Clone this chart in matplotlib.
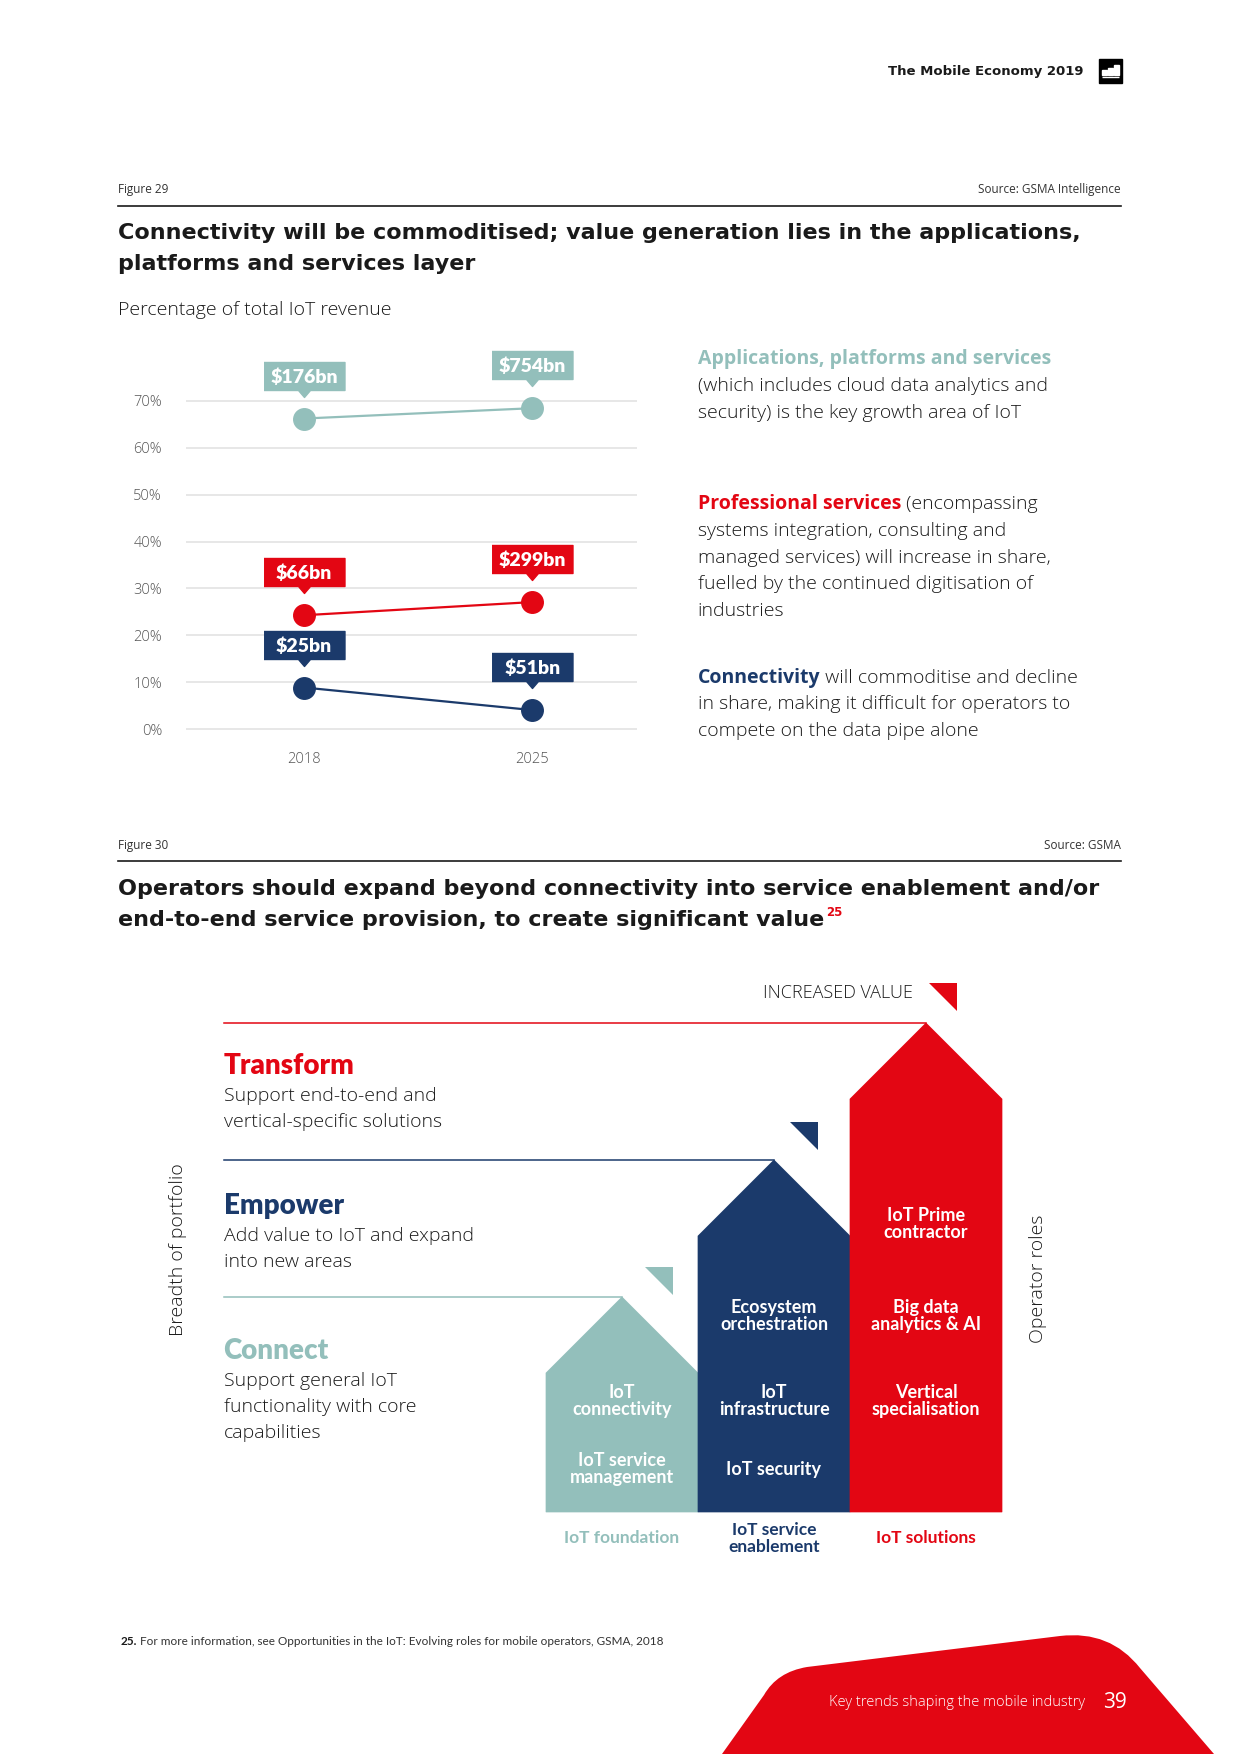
import matplotlib.pyplot as plt
from matplotlib.patches import Polygon, Rectangle, PathPatch
from matplotlib.path import Path
from matplotlib.transforms import offset_copy

TEAL = '#93bfbb'
RED = '#e30613'
NAVY = '#1b3a6b'
DARK = '#1a1a1a'
GREY = '#555555'
BODY = 'Open Sans'
BOLD = 'Lato'
HEAD = 'DejaVu Sans'

# ---- Figure 29 data ----
years = ['2018', '2025']
share_apps = [66.2, 68.4]
share_prof = [24.3, 27.1]
share_conn = [8.9, 4.1]
revenue_apps = ['$176bn', '$754bn']
revenue_prof = ['$66bn', '$299bn']
revenue_conn = ['$25bn', '$51bn']
y_ticks = [0, 10, 20, 30, 40, 50, 60, 70]

# ---- Figure 30 data ----
roles = ['Connect', 'Empower', 'Transform']
role_desc = [['Support general IoT', 'functionality with core', 'capabilities'],
             ['Add value to IoT and expand', 'into new areas'],
             ['Support end-to-end and', 'vertical-specific solutions']]
columns = ['IoT foundation', 'IoT service\nenablement', 'IoT solutions']
column_items = [['IoT\nconnectivity', 'IoT service\nmanagement'],
                ['Ecosystem\norchestration', 'IoT\ninfrastructure', 'IoT security'],
                ['IoT Prime\ncontractor', 'Big data\nanalytics & AI', 'Vertical\nspecialisation']]
item_rows = [[2, 3], [1, 2, 3], [0, 1, 2]]
col_colors = [TEAL, NAVY, RED]

fig = plt.figure(figsize=(12.4, 17.54), dpi=100)
page = fig.add_axes([0, 0, 1, 1])
page.set_xlim(0, 1240)
page.set_ylim(1754, 0)
page.axis('off')
renderer = fig.canvas.get_renderer()


def runs(x, y, parts, size):
    # draw text pieces one after another on the same line
    for s, color, weight, family in parts:
        t = page.text(x, y, s, color=color, fontweight=weight, fontsize=size,
                      va='center', ha='left', family=family)
        x += t.get_window_extent(renderer).width
    return x


# header
page.text(1083, 71, 'The Mobile Economy 2019', ha='right', va='center',
          fontsize=9.5, fontweight='bold', color=DARK, family=HEAD)
page.add_patch(Rectangle((1099, 59), 23, 24, color='black'))
for bx, bh in [(1102, 5), (1108, 7), (1114, 10)]:
    page.add_patch(Rectangle((bx, 75 - bh), 5, bh, color='white'))
page.add_patch(Rectangle((1102, 76.5), 17, 0.8, color='white'))

# ---- Figure 29 ----
page.text(118.5, 190, 'Figure 29', va='center', fontsize=8.5, color='#333333', family=BODY)
page.text(1121, 190, 'Source: GSMA Intelligence', va='center', ha='right', fontsize=8.5,
          color='#333333', family=BODY)
page.plot([118, 1121], [205.7, 205.7], color=DARK, lw=1.2)
page.text(118.5, 232.6, 'Connectivity will be commoditised; value generation lies in the applications,',
          va='center', fontsize=16, fontweight='bold', color=DARK, family=HEAD)
page.text(118.5, 263.9, 'platforms and services layer',
          va='center', fontsize=16, fontweight='bold', color=DARK, family=HEAD)
page.text(118.5, 309.7, 'Percentage of total IoT revenue', va='center', fontsize=14,
          color=DARK, family=BODY, fontweight='light')

ax = fig.add_axes([185.6 / 1240, 1 - 734 / 1754, 451.7 / 1240, 338 / 1754])
ax.set_xlim(-0.5195, 1.4608)
ax.set_ylim(-1, 71)
for s in ax.spines.values():
    s.set_visible(False)
ax.set_yticks(y_ticks)
ax.set_yticklabels([f'{t}%' for t in y_ticks])
ax.set_xticks([0, 1])
ax.set_xticklabels(years)
ax.tick_params(length=0, labelsize=10.5, labelcolor=GREY, pad=17)
ax.tick_params(axis='x', pad=13)
for lab in ax.get_xticklabels() + ax.get_yticklabels():
    lab.set_family(BODY)
    lab.set_fontweight('light')
ax.yaxis.grid(True, color='#e3e3e3', lw=1.2)
ax.set_axisbelow(True)

callout = [(-40.5, 14), (40.5, 14), (40.5, -14), (6, -14), (0, -21), (-6, -14), (-40.5, -14)]
box_tr = offset_copy(ax.transData, fig=fig, x=0, y=43, units='dots')
txt_tr = offset_copy(ax.transData, fig=fig, x=0, y=36, units='dots')
xs = [0, 1]
for vals, labels, color in [(share_apps, revenue_apps, TEAL),
                            (share_prof, revenue_prof, RED),
                            (share_conn, revenue_conn, NAVY)]:
    ax.plot(xs, vals, color=color, lw=1.6, marker='o', ms=15.5, clip_on=False, zorder=3)
    ax.plot(xs, vals, ls='none', marker=callout, ms=58.3, color=color, mec=color,
            transform=box_tr, clip_on=False, zorder=4)
    for xi, v, lab in zip(xs, vals, labels):
        ax.text(xi, v, lab, transform=txt_tr, ha='center', va='baseline', color='white',
                fontsize=14, fontweight='heavy', family=BOLD, zorder=5)

# right-hand commentary
lh = 26.8
tx0 = 697.7
runs(tx0, 359, [('Applications, platforms and services', TEAL, 'bold', BODY)], 14)
for i, line in enumerate(['(which includes cloud data analytics and',
                          'security) is the key growth area of IoT']):
    runs(tx0, 359 + lh * (i + 1), [(line, DARK, 'light', BODY)], 14)
runs(tx0, 504, [('Professional services', RED, 'bold', BODY),
                (' (encompassing', DARK, 'light', BODY)], 14)
for i, line in enumerate(['systems integration, consulting and',
                          'managed services) will increase in share,',
                          'fuelled by the continued digitisation of',
                          'industries']):
    runs(tx0, 504 + lh * (i + 1), [(line, DARK, 'light', BODY)], 14)
runs(tx0, 677.6, [('Connectivity', NAVY, 'bold', BODY),
                  (' will commoditise and decline', DARK, 'light', BODY)], 14)
for i, line in enumerate(['in share, making it difficult for operators to',
                          'compete on the data pipe alone']):
    runs(tx0, 677.6 + lh * (i + 1), [(line, DARK, 'light', BODY)], 14)

# ---- Figure 30 ----
page.text(118.5, 845.3, 'Figure 30', va='center', fontsize=8.5, color='#333333', family=BODY)
page.text(1121, 845.3, 'Source: GSMA', va='center', ha='right', fontsize=8.5,
          color='#333333', family=BODY)
page.plot([118, 1121], [861, 861], color=DARK, lw=1.2)
page.text(118.5, 889, 'Operators should expand beyond connectivity into service enablement and/or',
          va='center', fontsize=16, fontweight='bold', color=DARK, family=HEAD)
xe = runs(118.5, 920, [('end-to-end service provision, to create significant value', DARK, 'bold', HEAD)],
          16)
page.text(xe + 1, 912, '25', va='center', fontsize=8.5, fontweight='bold', color=RED,
          family=HEAD)

# houses
house_w = 152
left0 = 546
base = 1512
shoulder0 = 1373
step = 137
row_y = [1224, 1316, 1401, 1469]
role_y = [1350.6, 1206.4, 1065.6]
tri_pos = [(673, 1267), (818, 1122), (957, 983)]
tri = 28
for i, color in enumerate(col_colors):
    l = left0 + i * house_w
    sh = shoulder0 - i * step
    peak = sh - house_w / 2
    page.add_patch(Polygon([(l, base), (l, sh), (l + house_w / 2, peak),
                            (l + house_w, sh), (l + house_w, base)], closed=True,
                           fc=color, ec=color, lw=0.5))
    page.plot([223.6, l + house_w / 2], [peak, peak], color=color, lw=1.1)
    tx, ty = tri_pos[i]
    page.add_patch(Polygon([(tx - tri, ty), (tx, ty), (tx, ty + tri)], closed=True,
                           fc=color, ec='none'))
    cx = l + house_w / 2
    for item, r in zip(column_items[i], item_rows[i]):
        page.text(cx, row_y[r], item, ha='center', va='center', color='white',
                  fontsize=13, fontweight='bold', family=BOLD, linespacing=1.05)
    page.text(cx, 1538.3, columns[i], ha='center', va='center', color=color,
              fontsize=12.5, fontweight='bold', family=BOLD, linespacing=1.05)
    # role titles and descriptions
    page.text(223.6, role_y[i], roles[i], va='center', color=color, fontsize=20,
              fontweight='heavy', family=BOLD)
    for k, line in enumerate(role_desc[i]):
        page.text(223.6, role_y[i] + 30 + 26 * k, line, va='center', color=DARK,
                  fontsize=14, family=BODY, fontweight='light')

page.text(913, 993, 'INCREASED VALUE', ha='right', va='center', fontsize=13,
          color=DARK, family=BODY, fontweight='light')
page.text(178, 1250, 'Breadth of portfolio', rotation=90, ha='center', va='center',
          fontsize=14, color=DARK, family=BODY, fontweight='light')
page.text(1038, 1279, 'Operator roles', rotation=90, ha='center', va='center',
          fontsize=14, color=DARK, family=BODY, fontweight='light')

# footnote
runs(120.8, 1641.4, [('25.', DARK, 'bold', BOLD),
                     (' For more information, see Opportunities in the IoT: Evolving roles for '
                      'mobile operators, GSMA, 2018', '#333333', 'normal', BOLD)], 8.5)

# footer shape
verts = [(722, 1754), (764, 1695), (777, 1672), (807, 1667), (1060, 1636),
         (1110, 1630), (1140, 1668), (1214, 1754), (722, 1754)]
codes = [Path.MOVETO, Path.LINETO, Path.CURVE3, Path.CURVE3, Path.LINETO,
         Path.CURVE3, Path.CURVE3, Path.LINETO, Path.CLOSEPOLY]
page.add_patch(PathPatch(Path(verts, codes), fc=RED, ec='none'))
page.text(1085, 1703, 'Key trends shaping the mobile industry', ha='right', va='center',
          fontsize=10.5, color='white', family=BODY, fontweight='light')
page.text(1103, 1703, '39', ha='left', va='center', fontsize=15, color='white', family=BODY)

fig.savefig('out.png', dpi=100)
